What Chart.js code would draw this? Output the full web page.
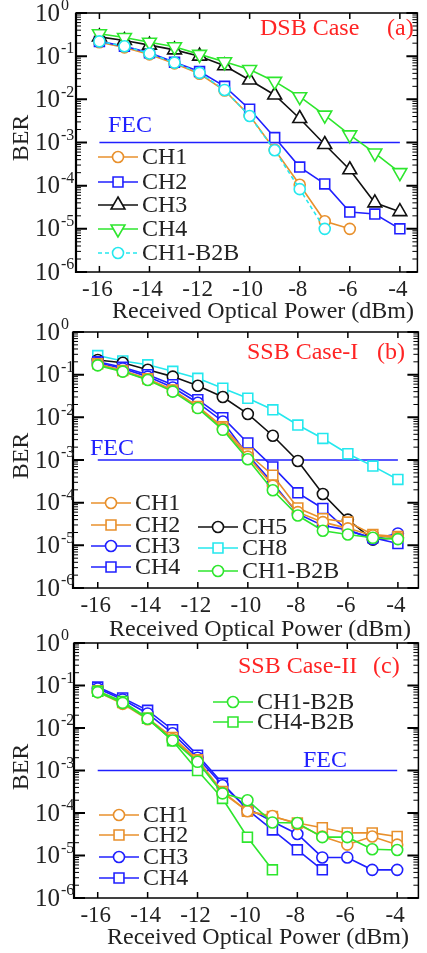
<!DOCTYPE html>
<html>
<head>
<meta charset="utf-8">
<script src="https://cdn.jsdelivr.net/npm/chart.js@4.4.1/dist/chart.umd.min.js"></script>
<style>
  html, body { margin: 0; padding: 0; background: #fff; }
  #wrap { position: relative; width: 427px; height: 953px; }
  canvas { position: absolute; left: 0; top: 0; }
</style>
</head>
<body>
<div id="wrap">
  <canvas id="panelA" width="427" height="953"></canvas>
  <canvas id="panelB" width="427" height="953"></canvas>
  <canvas id="panelC" width="427" height="953"></canvas>
</div>
<script>
// ---- data ----
const power = [-16, -15, -14, -13, -12, -11, -10, -9, -8, -7, -6, -5, -4];
const xTicks = [-16, -14, -12, -10, -8, -6, -4];
const yExps = [0, -1, -2, -3, -4, -5, -6];
const fecLevel = 1e-3;
const fecRange = [-16, -4];

// (a) DSB case
const dsbCH1 = [0.21, 0.16, 0.11, 0.068, 0.039, 0.016, 0.0042, 0.00068, 0.000105, 0.000015, 0.00001, null, null];
const dsbCH2 = [0.22, 0.17, 0.12, 0.072, 0.044, 0.02, 0.0059, 0.0013, 0.00027, 0.00011, 0.0000245, 0.000022, 0.00001];
const dsbCH3 = [0.28, 0.23, 0.18, 0.14, 0.1, 0.06, 0.028, 0.0126, 0.0036, 0.0009, 0.000234, 0.00004, 0.000025];
const dsbCH4 = [0.33, 0.27, 0.21, 0.165, 0.11, 0.074, 0.049, 0.026, 0.0115, 0.0043, 0.0015, 0.00057, 0.0002];
const dsbB2B = [0.22, 0.17, 0.115, 0.071, 0.041, 0.0165, 0.0041, 0.00066, 0.000083, 0.00001, null, null, null];

// (b) SSB case-I
const ssb1CH1 = [0.17, 0.12, 0.077, 0.042, 0.017, 0.0055, 0.0012, 0.00025, 0.00006, 0.000035, 0.000025, 0.000017, 0.000015];
const ssb1CH2 = [0.18, 0.125, 0.08, 0.044, 0.018, 0.006, 0.0014, 0.00044, 0.000075, 0.000042, 0.000035, 0.000018, 0.000016];
const ssb1CH3 = [0.19, 0.14, 0.09, 0.05, 0.022, 0.008, 0.0013, 0.00029, 0.000055, 0.000029, 0.000023, 0.000014, 0.000019];
const ssb1CH4 = [0.2, 0.15, 0.1, 0.058, 0.026, 0.0098, 0.0025, 0.00069, 0.00017, 0.000073, 0.000022, 0.000015, 0.000011];
const ssb1CH5 = [0.22, 0.19, 0.13, 0.09, 0.055, 0.03, 0.012, 0.0037, 0.00095, 0.00016, 0.00004, 0.0000136, 0.000015];
const ssb1CH8 = [0.28, 0.21, 0.17, 0.12, 0.082, 0.048, 0.028, 0.015, 0.0066, 0.0032, 0.0014, 0.00072, 0.00035];
const ssb1B2B = [0.165, 0.118, 0.075, 0.04, 0.0165, 0.0051, 0.00104, 0.000195, 0.00005, 0.000022, 0.000018, 0.000015, 0.000014];

// (c) SSB case-II
const ssb2CH1 = [0.07, 0.037, 0.016, 0.0055, 0.0017, 0.0003, 0.00011, 0.000085, 0.000055, 0.000028, 0.000018, 0.000028, 0.000018];
const ssb2CH2 = [0.075, 0.04, 0.017, 0.006, 0.0018, 0.00032, 0.00011, 0.000083, 0.000058, 0.000045, 0.000034, 0.000034, 0.000028];
const ssb2CH3 = [0.085, 0.047, 0.022, 0.0075, 0.002, 0.00045, 0.00013, 0.000063, 0.000032, 0.000009, 0.000009, 0.0000046, 0.0000046];
const ssb2CH4 = [0.092, 0.051, 0.026, 0.0091, 0.0023, 0.0005, 0.00012, 0.00004, 0.0000136, 0.0000046, null, null, null];
const ssb2B2B1 = [0.07, 0.039, 0.0165, 0.0051, 0.0016, 0.00029, 0.0002, 0.00006, 0.000058, 0.000027, 0.000027, 0.000014, 0.0000135];
const ssb2B2B4 = [0.073, 0.042, 0.017, 0.005, 0.001, 0.00022, 0.000027, 0.0000046, null, null, null, null, null];

// ---- styles ----
const ORANGE = "#e8902c", BLUE = "#2020ff", BLACK = "#111111", GREEN = "#2ee62e", CYAN = "#25e8ee", RED = "#ff2424";
const SERIF = "'Liberation Serif', 'DejaVu Serif', serif";
const TXT = "#222";

function pts(vals) {
    return power.map((x, i) => ({ x: x, y: vals[i] })).filter(p => p.y != null);
}

function serie(label, vals, color, shape, extra) {
    const r = shape === "circle" ? 5.5 : (shape === "rect" ? 7 : 8);
    return Object.assign({
        label: label,
        data: pts(vals),
        borderColor: color,
        backgroundColor: "#fff",
        pointBackgroundColor: "#fff",
        pointBorderColor: color,
        borderWidth: 1.6,
        pointBorderWidth: 1.6,
        pointStyle: shape,
        pointRadius: r,
        pointRotation: 0,
        tension: 0
    }, extra || {});
}

function fecLine() {
    return {
        label: "FEC",
        data: fecRange.map(x => ({ x: x, y: fecLevel })),
        borderColor: BLUE,
        borderWidth: 1.5,
        pointRadius: 0,
        order: 50
    };
}

function marker(ctx, ds, x, y) {
    ctx.save();
    ctx.setLineDash([]);
    ctx.lineWidth = ds.pointBorderWidth;
    ctx.strokeStyle = ds.borderColor;
    ctx.fillStyle = "#fff";
    Chart.helpers.drawPoint(ctx, {
        pointStyle: ds.pointStyle,
        rotation: ds.pointRotation || 0,
        radius: ds.pointRadius,
        borderWidth: ds.pointBorderWidth
    }, x, y);
    ctx.restore();
}

// frame, ticks, labels and legend
const deco = {
    id: "deco",
    afterDatasetsDraw(chart, args, o) {
        const ctx = chart.ctx;
        const a = chart.chartArea;
        const xs = chart.scales.x, ys = chart.scales.y;
        ctx.save();
        ctx.strokeStyle = "#000";

        // frame
        ctx.lineWidth = 1.5;
        ctx.strokeRect(a.left, a.top, a.right - a.left, a.bottom - a.top);
        ctx.lineWidth = 2.2;
        ctx.beginPath(); ctx.moveTo(a.left, a.top); ctx.lineTo(a.left, a.bottom + 1); ctx.stroke();

        // y ticks
        yExps.forEach(e => {
            const y = ys.getPixelForValue(Math.pow(10, e));
            ctx.lineWidth = 2;
            ctx.beginPath();
            ctx.moveTo(a.left, y); ctx.lineTo(a.left + 11, y);
            ctx.moveTo(a.right, y); ctx.lineTo(a.right - 11, y);
            ctx.stroke();
            if (e > -6) {
                ctx.lineWidth = 1;
                for (let m = 2; m <= 9; m++) {
                    const ym = ys.getPixelForValue(m * Math.pow(10, e - 1));
                    ctx.beginPath();
                    ctx.moveTo(a.left, ym); ctx.lineTo(a.left + 5, ym);
                    ctx.moveTo(a.right, ym); ctx.lineTo(a.right - 5, ym);
                    ctx.stroke();
                }
            }
            ctx.fillStyle = TXT;
            ctx.font = "25px " + SERIF;
            ctx.textAlign = "right";
            ctx.textBaseline = "middle";
            ctx.fillText("10", 60, y + 1);
            ctx.font = "16px " + SERIF;
            ctx.textAlign = "left";
            ctx.fillText(String(e), 61, y - 7);
        });

        // x ticks
        ctx.lineWidth = 1.5;
        xTicks.forEach(v => {
            const x = xs.getPixelForValue(v);
            ctx.beginPath();
            ctx.moveTo(x, a.bottom); ctx.lineTo(x, a.bottom - 6);
            ctx.moveTo(x, a.top); ctx.lineTo(x, a.top + 6);
            ctx.stroke();
            ctx.fillStyle = TXT;
            ctx.font = "23px " + SERIF;
            ctx.textAlign = "center";
            ctx.textBaseline = "middle";
            ctx.fillText(String(v), x - 2, a.bottom + 18);
        });

        // axis titles
        ctx.fillStyle = TXT;
        ctx.font = "24px " + SERIF;
        ctx.textAlign = "center";
        ctx.textBaseline = "alphabetic";
        ctx.fillText("Received Optical Power (dBm)", o.xTitle[0], o.xTitle[1]);
        ctx.save();
        ctx.translate(o.yTitle[0], o.yTitle[1]);
        ctx.rotate(-Math.PI / 2);
        ctx.textBaseline = "middle";
        ctx.fillText("BER", 0, 0);
        ctx.restore();

        // panel title
        ctx.fillStyle = RED;
        ctx.textAlign = "left";
        ctx.fillText(o.title[0], o.title[1], o.title[2]);
        ctx.fillText(o.tag[0], o.tag[1], o.tag[2]);

        // FEC label
        ctx.fillStyle = BLUE;
        ctx.fillText("FEC", o.fec[0], o.fec[1]);

        // legend
        o.legend.forEach(([label, x, y]) => {
            const ds = chart.data.datasets.find(d => d.label === label);
            ctx.save();
            ctx.strokeStyle = ds.borderColor;
            ctx.lineWidth = ds.borderWidth;
            ctx.setLineDash(ds.borderDash || []);
            ctx.beginPath(); ctx.moveTo(x, y); ctx.lineTo(x + 40, y); ctx.stroke();
            ctx.restore();
            marker(ctx, ds, x + 20, y);
            ctx.fillStyle = TXT;
            ctx.font = "24px " + SERIF;
            ctx.textAlign = "left";
            ctx.textBaseline = "middle";
            ctx.fillText(label, x + 44, y + 1);
        });
        ctx.restore();
    }
};

function makePanel(id, datasets, xr, pad, decoOpts) {
    return new Chart(document.getElementById(id), {
        type: "line",
        data: { datasets: datasets },
        options: {
            responsive: false,
            animation: false,
            devicePixelRatio: 1,
            layout: { padding: pad },
            scales: {
                x: { type: "linear", min: xr[0], max: xr[1], display: false },
                y: { type: "logarithmic", min: 1e-6, max: 1, display: false }
            },
            plugins: {
                legend: { display: false },
                tooltip: { enabled: false },
                deco: decoOpts
            }
        },
        plugins: [deco]
    });
}

// (a)
makePanel("panelA", [
    serie("CH1-B2B", dsbB2B, CYAN, "circle", { borderDash: [4, 3], order: 1 }),
    serie("CH4", dsbCH4, GREEN, "triangle", { pointRotation: 180, order: 2 }),
    serie("CH3", dsbCH3, BLACK, "triangle", { order: 3 }),
    serie("CH2", dsbCH2, BLUE, "rect", { order: 4 }),
    serie("CH1", dsbCH1, ORANGE, "circle", { order: 5 }),
    fecLine()
], [-16.935, -3.3], { left: 76, top: 13, right: 1, bottom: 681 }, {
    title: ["DSB Case", 260, 35],
    tag: ["(a)", 387, 35],
    fec: [108, 132],
    xTitle: [263, 318],
    yTitle: [22, 138],
    legend: [["CH1", 98, 157], ["CH2", 98, 182], ["CH3", 98, 205], ["CH4", 98, 229], ["CH1-B2B", 98, 253]]
});

// (b)
makePanel("panelB", [
    serie("CH1-B2B", ssb1B2B, GREEN, "circle", { order: 1 }),
    serie("CH1", ssb1CH1, ORANGE, "circle", { order: 2 }),
    serie("CH2", ssb1CH2, ORANGE, "rect", { order: 3 }),
    serie("CH3", ssb1CH3, BLUE, "circle", { order: 4 }),
    serie("CH4", ssb1CH4, BLUE, "rect", { order: 5 }),
    serie("CH5", ssb1CH5, BLACK, "circle", { order: 6 }),
    serie("CH8", ssb1CH8, CYAN, "rect", { order: 7 }),
    fecLine()
], [-16.99, -3.18], { left: 73, top: 332, right: 1, bottom: 365 }, {
    title: ["SSB Case-I", 247, 359],
    tag: ["(b)", 377, 359],
    fec: [90, 455],
    xTitle: [260, 636],
    yTitle: [22, 456],
    legend: [["CH1", 91, 503], ["CH2", 91, 525], ["CH3", 91, 546], ["CH4", 91, 567],
             ["CH5", 198, 527], ["CH8", 198, 548], ["CH1-B2B", 198, 571]]
});

// (c)
makePanel("panelC", [
    serie("CH1-B2B", ssb2B2B1, GREEN, "circle", { order: 1 }),
    serie("CH4-B2B", ssb2B2B4, GREEN, "rect", { order: 2 }),
    serie("CH1", ssb2CH1, ORANGE, "circle", { order: 3 }),
    serie("CH2", ssb2CH2, ORANGE, "rect", { order: 4 }),
    serie("CH3", ssb2CH3, BLUE, "circle", { order: 5 }),
    serie("CH4", ssb2CH4, BLUE, "rect", { order: 6 }),
    fecLine()
], [-16.95, -3.15], { left: 74, top: 643, right: 1, bottom: 55 }, {
    title: ["SSB Case-II", 238, 673],
    tag: ["(c)", 373, 673],
    fec: [303, 767],
    xTitle: [258, 944],
    yTitle: [22, 767],
    legend: [["CH1-B2B", 213, 702], ["CH4-B2B", 213, 722],
             ["CH1", 99, 815], ["CH2", 99, 835], ["CH3", 99, 857], ["CH4", 99, 878]]
});
</script>
</body>
</html>
